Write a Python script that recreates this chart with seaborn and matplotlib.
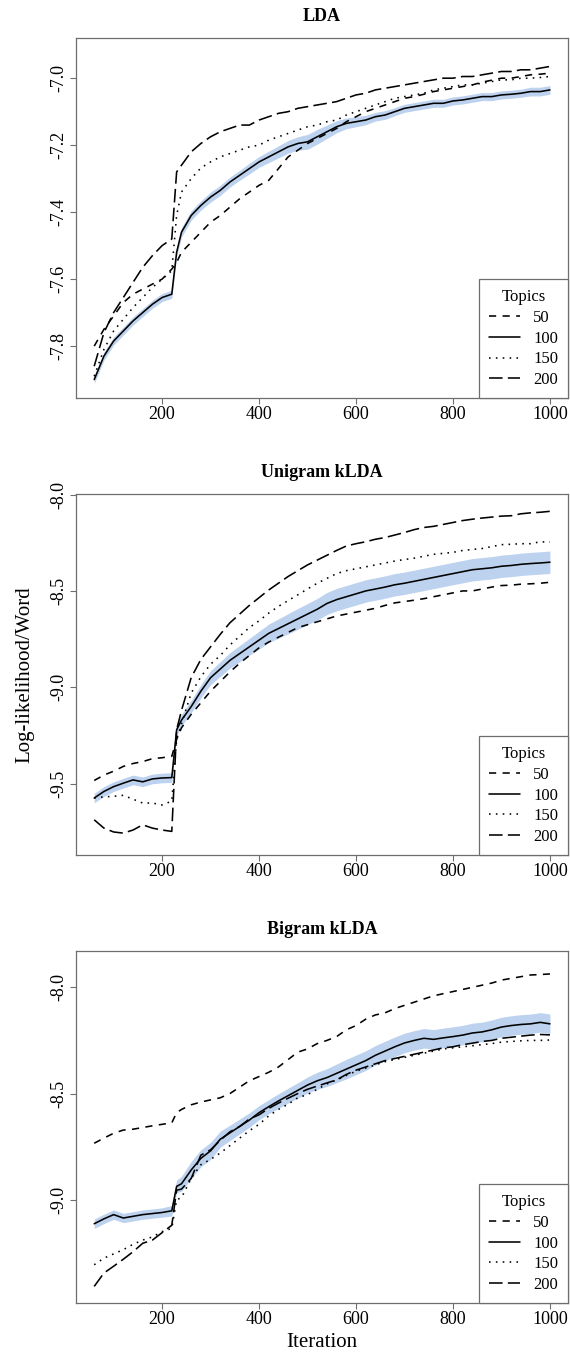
import matplotlib
matplotlib.use("Agg")
import matplotlib.pyplot as plt
from matplotlib.lines import Line2D
import numpy as np
import pandas as pd
import seaborn as sns

# ---------------- data ----------------
iterations = [60, 80, 100, 120, 140, 160, 180, 200, 220, 230, 240, 260, 280, 300, 320, 340, 360, 380,
              400, 420, 440, 460, 480, 500, 520, 540, 560, 580, 600, 620, 640, 660, 680, 700, 720,
              740, 760, 780, 800, 820, 840, 860, 880, 900, 920, 940, 960, 980, 1000]

topics = ["50", "100", "150", "200"]

# LDA
lda_50 = [-7.80, -7.75, -7.71, -7.67, -7.645, -7.63, -7.615, -7.60, -7.57, -7.55, -7.52, -7.49, -7.46,
          -7.43, -7.41, -7.385, -7.36, -7.34, -7.32, -7.305, -7.27, -7.235, -7.215, -7.195, -7.18,
          -7.165, -7.15, -7.13, -7.115, -7.10, -7.09, -7.08, -7.07, -7.06, -7.055, -7.048, -7.04,
          -7.035, -7.03, -7.025, -7.02, -7.012, -7.006, -7.0, -7.0, -6.995, -6.99, -6.988, -6.985]
lda_100 = [-7.90, -7.83, -7.785, -7.755, -7.725, -7.70, -7.675, -7.655, -7.645, -7.52, -7.46, -7.41,
           -7.38, -7.355, -7.335, -7.31, -7.29, -7.27, -7.25, -7.235, -7.22, -7.205, -7.195, -7.19,
           -7.175, -7.16, -7.145, -7.135, -7.13, -7.125, -7.115, -7.11, -7.10, -7.09, -7.085, -7.08,
           -7.075, -7.075, -7.068, -7.065, -7.06, -7.055, -7.055, -7.05, -7.048, -7.045, -7.04,
           -7.04, -7.035]
lda_150 = [-7.89, -7.81, -7.755, -7.72, -7.685, -7.655, -7.625, -7.60, -7.575, -7.41, -7.34, -7.30,
           -7.268, -7.25, -7.235, -7.225, -7.215, -7.205, -7.20, -7.185, -7.175, -7.165, -7.155,
           -7.145, -7.14, -7.13, -7.125, -7.11, -7.10, -7.09, -7.08, -7.07, -7.06, -7.055, -7.05,
           -7.045, -7.035, -7.03, -7.025, -7.02, -7.02, -7.015, -7.01, -7.005, -7.005, -7.0, -7.0,
           -6.998, -6.995]
lda_200 = [-7.86, -7.76, -7.70, -7.655, -7.61, -7.565, -7.53, -7.50, -7.48, -7.28, -7.26, -7.22,
           -7.195, -7.175, -7.16, -7.15, -7.14, -7.14, -7.125, -7.115, -7.105, -7.10, -7.09, -7.085,
           -7.08, -7.075, -7.07, -7.06, -7.05, -7.045, -7.035, -7.03, -7.025, -7.02, -7.015, -7.01,
           -7.005, -7.0, -7.0, -6.995, -6.995, -6.99, -6.985, -6.98, -6.98, -6.975, -6.975, -6.97,
           -6.965]
lda_100_band = [0.012, 0.012, 0.012, 0.012, 0.012, 0.012, 0.012, 0.012, 0.012, 0.012, 0.014, 0.014,
                0.014, 0.015, 0.015, 0.015, 0.015, 0.016, 0.016, 0.017, 0.018, 0.019, 0.02, 0.022,
                0.022, 0.02, 0.018, 0.016, 0.015, 0.014, 0.013, 0.013, 0.012, 0.012, 0.012, 0.012,
                0.012, 0.012, 0.012, 0.012, 0.012, 0.012, 0.012, 0.012, 0.012, 0.012, 0.013, 0.013,
                0.013]

# Unigram kLDA
uni_50 = [-9.483, -9.455, -9.435, -9.41, -9.395, -9.385, -9.37, -9.365, -9.358, -9.27, -9.21, -9.14,
          -9.08, -9.02, -8.97, -8.92, -8.875, -8.835, -8.795, -8.765, -8.74, -8.715, -8.69, -8.675,
          -8.66, -8.645, -8.63, -8.62, -8.61, -8.60, -8.59, -8.575, -8.562, -8.555, -8.548, -8.54,
          -8.53, -8.52, -8.51, -8.50, -8.50, -8.49, -8.48, -8.472, -8.47, -8.465, -8.463, -8.46,
          -8.455]
uni_100 = [-9.574, -9.54, -9.515, -9.497, -9.48, -9.49, -9.475, -9.47, -9.468, -9.22, -9.17, -9.10,
           -9.02, -8.95, -8.905, -8.86, -8.825, -8.79, -8.755, -8.72, -8.695, -8.67, -8.645,
           -8.62, -8.595, -8.565, -8.545, -8.53, -8.515, -8.50, -8.49, -8.48, -8.468, -8.46, -8.45,
           -8.44, -8.43, -8.42, -8.41, -8.40, -8.39, -8.385, -8.38, -8.372, -8.368, -8.362, -8.358,
           -8.355, -8.351]
uni_150 = [-9.574, -9.568, -9.565, -9.56, -9.58, -9.60, -9.60, -9.61, -9.59, -9.27, -9.19, -9.03,
           -8.945, -8.88, -8.835, -8.78, -8.735, -8.69, -8.655, -8.615, -8.58, -8.55, -8.52,
           -8.49, -8.46, -8.435, -8.41, -8.395, -8.385, -8.375, -8.365, -8.355, -8.345, -8.337, -8.33,
           -8.32, -8.31, -8.305, -8.30, -8.29, -8.285, -8.28, -8.27, -8.26, -8.258, -8.255, -8.255,
           -8.245, -8.247]
uni_200 = [-9.687, -9.73, -9.75, -9.756, -9.74, -9.713, -9.73, -9.74, -9.747, -9.22, -9.12, -8.95,
           -8.855, -8.79, -8.725, -8.665, -8.62, -8.575, -8.535, -8.495, -8.46, -8.425, -8.395, -8.365,
           -8.34, -8.315, -8.29, -8.267, -8.255, -8.245, -8.232, -8.223, -8.21, -8.197, -8.182,
           -8.171, -8.165, -8.155, -8.145, -8.135, -8.128, -8.122, -8.117, -8.112, -8.11, -8.10,
           -8.095, -8.092, -8.087]
uni_100_band = [0.025, 0.025, 0.025, 0.025, 0.025, 0.025, 0.025, 0.025, 0.025, 0.03, 0.03, 0.032,
                0.034, 0.036, 0.038, 0.04, 0.042, 0.044, 0.046, 0.048, 0.05, 0.052, 0.054, 0.055,
                0.056, 0.057, 0.058, 0.058, 0.058, 0.058, 0.058, 0.058, 0.058, 0.058, 0.058, 0.058,
                0.058, 0.058, 0.058, 0.058, 0.058, 0.058, 0.058, 0.058, 0.058, 0.058, 0.058, 0.058,
                0.058]

# Bigram kLDA
big_50 = [-8.734, -8.71, -8.687, -8.672, -8.668, -8.66, -8.652, -8.645, -8.638, -8.59, -8.575,
          -8.553, -8.54, -8.53, -8.52, -8.50, -8.47, -8.44, -8.42, -8.40, -8.375, -8.34, -8.305,
          -8.29, -8.265, -8.25, -8.232, -8.20, -8.18, -8.15, -8.13, -8.12, -8.10, -8.085, -8.07,
          -8.055, -8.04, -8.03, -8.02, -8.01, -8.0, -7.99, -7.98, -7.966, -7.958, -7.95, -7.942,
          -7.94, -7.937]
big_100 = [-9.113, -9.09, -9.07, -9.086, -9.078, -9.07, -9.065, -9.06, -9.052, -8.937, -8.925,
           -8.86, -8.805, -8.77, -8.715, -8.685, -8.655, -8.625, -8.59, -8.562, -8.535, -8.51,
           -8.485, -8.46, -8.44, -8.425, -8.405, -8.385, -8.365, -8.345, -8.32, -8.30, -8.28,
           -8.262, -8.25, -8.24, -8.245, -8.238, -8.232, -8.225, -8.215, -8.21, -8.20, -8.187,
           -8.18, -8.175, -8.172, -8.165, -8.172]
big_150 = [-9.306, -9.275, -9.255, -9.235, -9.21, -9.19, -9.175, -9.15, -9.135, -9.0, -8.99, -8.90,
           -8.835, -8.81, -8.78, -8.745, -8.71, -8.675, -8.645, -8.605, -8.575, -8.55, -8.52,
           -8.505, -8.48, -8.455, -8.436, -8.415, -8.395, -8.38, -8.365, -8.35, -8.34, -8.33, -8.32,
           -8.31, -8.30, -8.29, -8.285, -8.28, -8.275, -8.27, -8.265, -8.258, -8.255, -8.252, -8.25,
           -8.25, -8.248]
big_200 = [-9.408, -9.345, -9.313, -9.28, -9.245, -9.205, -9.19, -9.155, -9.12, -8.955, -8.95,
           -8.90, -8.79, -8.765, -8.72, -8.68, -8.655, -8.62, -8.6, -8.57, -8.545, -8.522, -8.50,
           -8.48, -8.465, -8.45, -8.436, -8.41, -8.39, -8.375, -8.36, -8.345, -8.335, -8.325,
           -8.315, -8.305, -8.295, -8.285, -8.28, -8.27, -8.263, -8.255, -8.25, -8.24, -8.235,
           -8.23, -8.225, -8.222, -8.224]
big_100_band = [0.022, 0.022, 0.022, 0.022, 0.022, 0.022, 0.022, 0.022, 0.025, 0.03, 0.035, 0.04,
                0.04, 0.04, 0.038, 0.036, 0.035, 0.034, 0.033, 0.033, 0.034, 0.035, 0.036, 0.038,
                0.04, 0.042, 0.044, 0.046, 0.046, 0.046, 0.046, 0.046, 0.046, 0.046, 0.046, 0.046,
                0.046, 0.046, 0.046, 0.046, 0.046, 0.046, 0.046, 0.046, 0.046, 0.046, 0.046, 0.046,
                0.046]

titles = ["LDA", "Unigram kLDA", "Bigram kLDA"]
panel_series = [
    [lda_50, lda_100, lda_150, lda_200],
    [uni_50, uni_100, uni_150, uni_200],
    [big_50, big_100, big_150, big_200],
]
panel_bands = [lda_100_band, uni_100_band, big_100_band]
y_ticks = [[-7.8, -7.6, -7.4, -7.2, -7.0], [-9.5, -9.0, -8.5, -8.0], [-9.0, -8.5, -8.0]]
y_ticklabels = [["-7.8", "-7.6", "-7.4", "-7.2", "-7.0"], ["-9.5", "-9.0", "-8.5", "-8.0"],
                ["-9.0", "-8.5", "-8.0"]]
x_ticks = [200, 400, 600, 800, 1000]
y_limits = [(-7.955, -6.88), (-9.869, -7.997), (-9.486, -7.829)]

# ---------------- style ----------------
sns.set_style("white")
plt.rcParams["font.family"] = ["Liberation Serif", "DejaVu Serif"]
plt.rcParams["text.color"] = "black"
plt.rcParams["axes.labelcolor"] = "black"
plt.rcParams["xtick.color"] = "black"
plt.rcParams["ytick.color"] = "black"

dash_map = {"50": (4.5, 4.0), "100": "", "150": (1.0, 3.3), "200": (8.5, 3.3)}
band_color = "#bcd2ee"
spine_color = "#6e6e6e"
lw = 1.15

fig = plt.figure(figsize=(5.7, 13.57), dpi=100)
positions = [
    [0.1333, 0.7067, 0.8635, 0.2653],
    [0.1333, 0.3700, 0.8635, 0.2660],
    [0.1333, 0.0398, 0.8635, 0.2594],
]

for i in range(3):
    ax = fig.add_axes(positions[i])
    series = panel_series[i]
    df = pd.concat([
        pd.DataFrame({"Iteration": iterations, "LL": series[k], "Topics": topics[k]})
        for k in range(4)
    ], ignore_index=True)

    y100 = np.array(series[1])
    hw = np.array(panel_bands[i])
    ax.fill_between(iterations, y100 - hw, y100 + hw, color=band_color, lw=0, zorder=1)

    sns.lineplot(data=df, x="Iteration", y="LL", style="Topics", style_order=topics,
                 dashes=dash_map, color="black", lw=lw, ax=ax, legend=False, zorder=3,
                 estimator=None, sort=False)

    ax.set_xlim(22.4, 1037.6)
    ax.set_ylim(*y_limits[i])
    ax.set_xticks(x_ticks)
    ax.set_xticklabels([str(t) for t in x_ticks], fontsize=13)
    ax.set_yticks(y_ticks[i])
    ax.set_yticklabels(y_ticklabels[i], fontsize=13, rotation=90, va="center")
    ax.tick_params(axis="both", direction="out", length=4, width=0.8, color=spine_color,
                   bottom=True, left=True)
    ax.tick_params(axis="x", pad=1.5)
    ax.tick_params(axis="y", pad=2)
    for sp in ax.spines.values():
        sp.set_color(spine_color)
        sp.set_linewidth(0.9)
    ax.set_title(titles[i], fontsize=13, fontweight="bold", pad=12)
    ax.set_xlabel("")
    ax.set_ylabel("")
    ax.grid(False)

    handles = [Line2D([], [], color="black", lw=lw,
                      linestyle=(0, dash_map[t]) if dash_map[t] else "-") for t in topics]
    leg = ax.legend(handles, topics, title="Topics", loc="lower right", fontsize=12,
                    title_fontsize=12, frameon=True, fancybox=False, borderaxespad=0.0,
                    handlelength=1.85, handletextpad=0.8, labelspacing=0.28,
                    borderpad=0.6)
    leg.get_frame().set_edgecolor(spine_color)
    leg.get_frame().set_linewidth(0.9)
    leg.get_frame().set_facecolor("white")
    leg.get_frame().set_alpha(1.0)

    if i == 1:
        ax.set_ylabel("Log-likelihood/Word", fontsize=15, labelpad=12)
    if i == 2:
        ax.set_xlabel("Iteration", fontsize=15, labelpad=4)

fig.savefig("out.png", dpi=100)
